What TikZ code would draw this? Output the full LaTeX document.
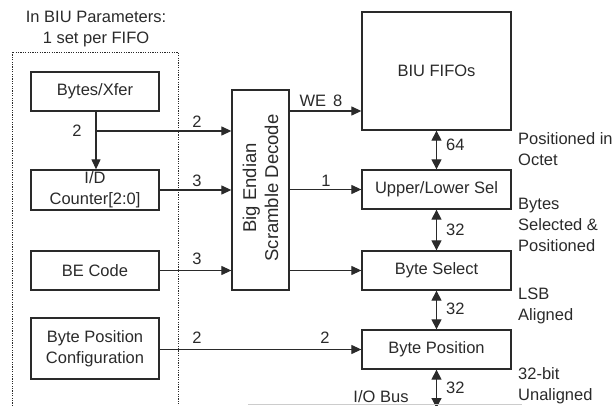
\documentclass[tikz,border=0pt]{standalone}
\usepackage{fontspec}
\setmainfont{Liberation Sans}
\usetikzlibrary{arrows.meta}
\definecolor{ink}{HTML}{2A2A2A}
\begin{document}
\begin{tikzpicture}[x=1pt,y=-1pt,
  every node/.style={text=ink,font=\fontsize{16.5}{21}\selectfont},
  blk/.style={draw=ink,line width=1.3pt,inner sep=0pt,align=center},
  lbl/.style={inner sep=0pt,anchor=center},
  side/.style={inner sep=0pt,anchor=north west,align=left},
  conn/.style={draw=ink,line width=1.2pt,-{Triangle[length=10pt,width=9pt]}},
  wire/.style={draw=ink,line width=1.2pt},
  bus/.style={draw=ink,line width=1.2pt,{Triangle[length=10pt,width=10pt]}-{Triangle[length=10pt,width=10pt]}}]
\useasboundingbox (0,0) rectangle (613,406);
% dotted parameter region
\draw[ink,line width=0.9pt,dash pattern=on 1.2pt off 1.2pt] (12,406) -- (12,52) -- (178,52) -- (178,406);
\node[lbl,align=center] (title) at (96,29) {In BIU Parameters:\\1 set per FIFO};
% left blocks
\node[blk,minimum width=128pt,minimum height=39pt] (bx) at (95,91.5) {Bytes/Xfer};
\node[blk,minimum width=128pt,minimum height=40pt] (idc) at (95,190) {I/D\\Counter[2:0]};
\node[blk,minimum width=128pt,minimum height=39pt] (bec) at (95,270.5) {BE Code};
\node[blk,minimum width=128pt,minimum height=61pt] (bpc) at (95,348.5) {Byte Position\\Configuration};
% decoder
\node[blk,minimum width=57pt,minimum height=200pt] (bed) at (260.5,190) {};
\node[lbl,rotate=90,align=center,font=\fontsize{18.5}{22}\selectfont] (bedt) at (260.5,188) {Big Endian\\Scramble Decode};
% right blocks
\node[blk,minimum width=149pt,minimum height=118pt] (fifo) at (436.5,71) {BIU FIFOs};
\node[blk,minimum width=149pt,minimum height=39pt] (uls) at (436.5,189.5) {Upper/Lower Sel};
\node[blk,minimum width=149pt,minimum height=39pt] (bsel) at (436.5,270.5) {Byte Select};
\node[blk,minimum width=149pt,minimum height=39pt] (bpos) at (436.5,349.5) {Byte Position};
% connectors
\coordinate (br) at (96,131);
\draw[wire] (bx.south -| br) -- (br);
\draw[conn] (br) -- (idc.north -| br);
\draw[conn] (br) -- (bed.west |- br);
\draw[conn] (idc.east) -- (bed.west |- idc.east);
\draw[conn] (bec.east) -- (bed.west |- bec.east);
\draw[conn] (bpc.east |- bpos.west) -- (bpos.west);
\coordinate (we) at (289,111);
\draw[conn] (we) -- (fifo.west |- we);
\draw[conn] (bed.east |- uls.west) -- (uls.west);
\draw[conn] (bed.east |- bsel.west) -- (bsel.west);
% vertical buses
\draw[bus] (fifo.south) -- (uls.north);
\draw[bus] (uls.south) -- (bsel.north);
\draw[bus] (bsel.south) -- (bpos.north);
\coordinate (iob) at (436.5,408);
\draw[bus] (bpos.south) -- (iob);
% bus line
\coordinate (busl) at (248,404);
\coordinate (busr) at (522,404);
\draw[black!20,line width=1pt] (busl) -- (busr);
% labels
\node[lbl] (l1) at (77,131) {2};
\node[lbl] (l2) at (197,122) {2};
\node[lbl] (l3) at (197,181) {3};
\node[lbl] (l4) at (197,259) {3};
\node[lbl] (l5) at (197,338) {2};
\node[lbl] (l6) at (325,338) {2};
\node[lbl] (l7) at (326,181) {1};
\node[lbl] (l8) at (321,101) {WE\hspace{7pt}8};
\node[lbl,anchor=west] (l9) at (446,145) {64};
\node[lbl,anchor=west] (l10) at (446,230) {32};
\node[lbl,anchor=west] (l11) at (446,309) {32};
\node[lbl,anchor=west] (l12) at (446,388) {32};
\node[lbl] (iobus) at (381,397) {I/O Bus};
\node[side] (s1) at (518,132) {Positioned in\\Octet};
\node[side] (s2) at (518,198) {Bytes\\Selected \&\\Positioned};
\node[side] (s3) at (518,288) {LSB\\Aligned};
\node[side] (s4) at (518,367) {32-bit\\Unaligned};
\end{tikzpicture}
\end{document}
